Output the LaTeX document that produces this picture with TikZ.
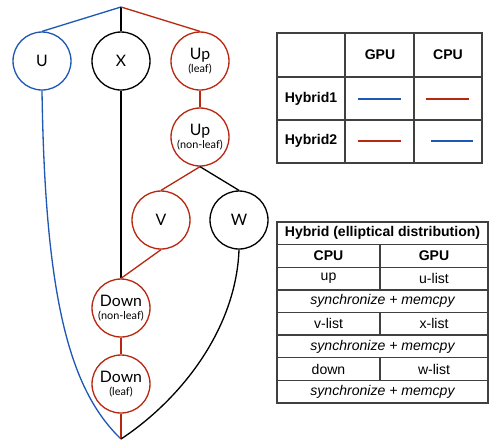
\documentclass[tikz,border=0pt]{standalone}
\usepackage{fontspec}
\setmainfont{Liberation Sans}
\newfontfamily\opfont{Lato}
\definecolor{hblue}{RGB}{30,88,180}
\definecolor{hred}{RGB}{184,40,16}
\newcommand{\opsub}[1]{\\[-3pt]{\fontsize{6.2}{7}\selectfont #1}}
\begin{document}
\begin{tikzpicture}[x=0.02cm, y=-0.02cm, line width=0.75pt,
	op/.style={draw, circle, minimum size=1.16cm, inner sep=0pt, align=center, font=\opfont\fontsize{9}{10}\selectfont},
	tab/.style={draw=black!75, line width=0.7pt},
	hd/.style={font=\bfseries\fontsize{8}{9}\selectfont},
	cell/.style={font=\fontsize{8}{9}\selectfont},
	syn/.style={font=\itshape\fontsize{8}{9}\selectfont}]
	\useasboundingbox (0,0) rectangle (500,441);
	\coordinate (top) at (121,7);
	\coordinate (bot) at (121,439);
	\node[op, draw=hblue] (u) at (42,61) {U};
	\node[op] (x) at (121,61) {X};
	\node[op, draw=hred] (upl) at (200,61) {Up\opsub{(leaf)}};
	\node[op, draw=hred] (upn) at (200,137) {Up\opsub{(non-leaf)}};
	\node[op, draw=hred] (v) at (161,220) {V};
	\node[op] (w) at (239,220) {W};
	\node[op, draw=hred] (dnn) at (121,308) {Down\opsub{(non-leaf)}};
	\node[op, draw=hred] (dnl) at (121,384) {Down\opsub{(leaf)}};
	\draw[hblue] (top) -- (u.north);
	\draw (top) -- (x.north);
	\draw[hred] (top) -- (upl.north);
	\draw[hblue] (u.south) .. controls (45,300) and (70,390) .. (bot);
	\draw (x.south) -- (dnn.north);
	\draw[hred] (upl) -- (upn);
	\draw[hred] (upn.south) -- (v.north);
	\draw (upn.south) -- (w.north);
	\draw[hred] (v.south) -- (dnn.north);
	\draw[hred] (dnn) -- (dnl);
	\draw[hred] (dnl) -- (bot);
	\draw (w.south) .. controls (236,330) and (180,400) .. (bot);
	\draw[tab] (277,33) rectangle (482,163);
	\foreach \x in {345,414}
	\draw[tab] (\x,33) -- (\x,163);
	\foreach \y in {77,120}
	\draw[tab] (277,\y) -- (482,\y);
	\node[hd] (gpu1) at (380,55) {GPU};
	\node[hd] (cpu1) at (448,55) {CPU};
	\node[hd] (hyb1) at (311,99) {Hybrid1};
	\node[hd] (hyb2) at (311,141) {Hybrid2};
	\draw[hblue] (358,99) -- (401,99);
	\draw[hred] (426,99) -- (469,99);
	\draw[hred] (358,141) -- (401,141);
	\draw[hblue] (431,141) -- (473,141);
	\draw[tab] (277,222) rectangle (488,403);
	\foreach \y in {244.6,267.2,289.9,312.5,335.1,357.8,380.4}
	\draw[tab] (277,\y) -- (488,\y);
	\foreach \a/\b in {244.6/289.9,312.5/335.1,357.8/380.4}
	\draw[tab] (380,\a) -- (380,\b);
	\node[hd] (title) at (382.5,233.3) {Hybrid (elliptical distribution)};
	\node[hd] (cpu2) at (328.5,255.9) {CPU};
	\node[hd] (gpu2) at (434,255.9) {GPU};
	\node[cell] (up) at (328.5,278.5) {up};
	\node[cell] (ulist) at (434,278.5) {u-list};
	\node[syn] (sync1) at (382.5,301.2) {synchronize + memcpy};
	\node[cell] (vlist) at (328.5,323.8) {v-list};
	\node[cell] (xlist) at (434,323.8) {x-list};
	\node[syn] (sync2) at (382.5,346.4) {synchronize + memcpy};
	\node[cell] (down) at (328.5,369.1) {down};
	\node[cell] (wlist) at (434,369.1) {w-list};
	\node[syn] (sync3) at (382.5,391.7) {synchronize + memcpy};
\end{tikzpicture}
\end{document}
